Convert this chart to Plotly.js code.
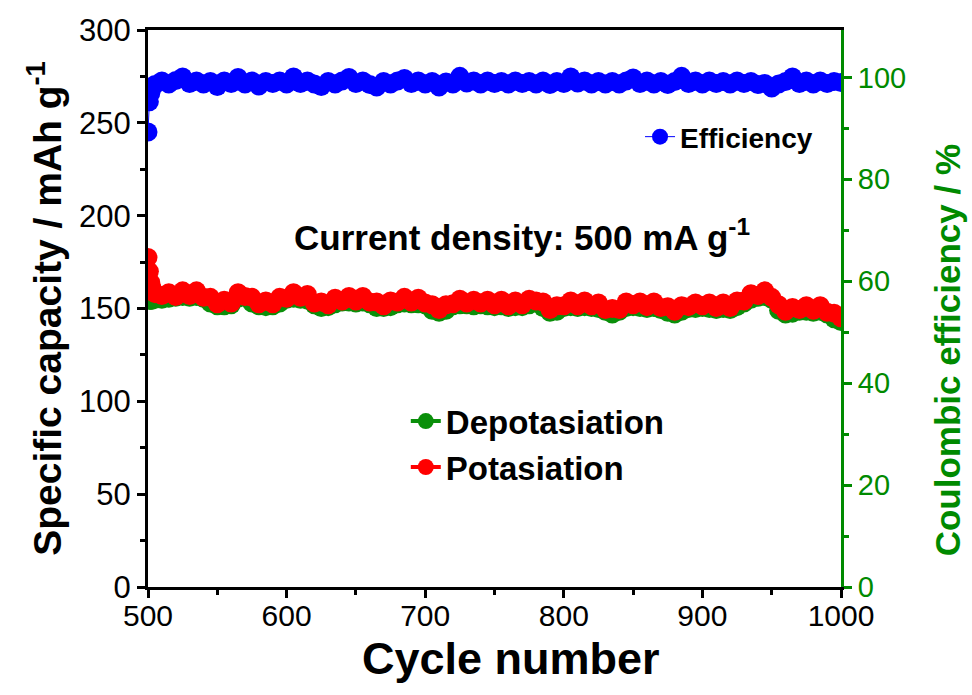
<!DOCTYPE html>
<html>
<head>
<meta charset="utf-8">
<script src="https://cdn.plot.ly/plotly-3.0.1.min.js"></script>
<style>html,body{margin:0;padding:0;background:#fff}#chart{width:972px;height:695px}</style>
</head>
<body>
<div id="chart"></div>
<script>
// Cycle numbers
const cycles = [500,501,502,503,505,510,515,520,525,530,
 535,540,545,550,555,560,565,570,575,580,
 585,590,595,600,605,610,615,620,625,630,
 635,640,645,650,655,660,665,670,675,680,
 685,690,695,700,705,710,715,720,725,730,
 735,740,745,750,755,760,765,770,775,780,
 785,790,795,800,805,810,815,820,825,830,
 835,840,845,850,855,860,865,870,875,880,
 885,890,895,900,905,910,915,920,925,930,
 935,940,945,950,955,960,965,970,975,980,
 985,990,995,1000];

// Potasiation capacity (mAh/g)
const potasiation = [177.5,170,164,161,158,157,158.5,156.5,159.5,157,
 159.5,156,156,152.5,154.5,153,158.5,156.5,156,152.5,
 154,152.5,156,155.5,158.5,156,157.5,153,153.5,152,
 155.5,154,156.5,154,156.5,153.5,153.5,151.5,154,153.5,
 156,153.5,155.5,153,152,149.5,152,152.5,155,153,
 154.5,153,154.5,152,154.5,151.5,154,152,155,154,
 153.5,149.5,151.5,151.5,154,151.5,154,151.5,153,149.5,
 150,149.5,153.5,152,153.5,151,153.5,150.5,151,148.5,
 151.5,151,153,151.5,153,150.5,153,150.5,154,154,
 158,157,159.5,156,152,148.5,150.5,149.5,151.5,149,
 151.5,148,147.5,145];

// Depotasiation capacity (mAh/g)
const depotasiation = [155,154.5,154.5,154.5,155,155,155.5,156,156.5,156,
 156.5,155.5,153,151.5,151.5,152,155.5,156,153,151.5,
 151,151.5,153,155,155.5,155,154.5,152,150.5,151,
 152.5,153.5,153.5,153,153.5,152.5,150.5,150.5,151,152.5,
 153,152.5,152.5,152,149,148,149,151.5,152,152,
 151.5,152,151.5,151,151.5,150.5,151,151,152,153,
 150.5,148,148.5,150.5,151,150.5,151,150.5,150,148.5,
 147,148.5,150.5,151,150.5,150,150.5,149.5,148,147,
 148.5,150,150,150.5,150,149.5,150,149.5,151,153,
 155,156,156.5,155,149,147,147.5,148.5,148.5,148,
 148.5,147,144.5,143];

// Coulombic efficiency (%)
const efficiency = [89.3,95.2,96.9,97.9,98.6,99.3,98.7,99.4,100.1,98.8,
 99.3,98.7,99.2,98.2,99.3,98.8,100.0,98.7,99.3,98.3,
 99.2,98.8,99.3,98.7,100.1,98.8,99.3,98.7,98.2,99.2,
 98.7,99.3,100.0,98.8,99.3,98.6,98.1,99.2,98.7,99.3,
 99.8,98.8,99.3,98.7,99.2,98.1,99.1,98.7,100.2,98.9,
 99.3,98.7,99.3,98.8,99.2,98.7,99.3,98.8,99.2,98.7,
 99.3,98.6,99.2,98.8,100.1,98.9,99.3,98.7,99.2,98.7,
 99.2,98.7,99.3,99.9,98.8,99.3,98.7,99.2,98.6,99.2,
 100.2,98.8,99.3,98.7,99.3,98.8,99.2,98.7,99.3,98.8,
 99.2,98.6,98.8,97.9,98.7,99.2,100.1,98.8,99.3,98.7,
 99.3,98.8,99.2,99.0];

const xTicks = [500,600,700,800,900,1000];
const yTicks = [0,50,100,150,200,250,300];
const y2Ticks = [0,20,40,60,80,100];

const FONT = 'Liberation Sans, Arial, sans-serif';
const GREEN = '#008a00';

const traces = [
  {x: cycles, y: depotasiation, name: 'Depotasiation', type: 'scatter', mode: 'lines+markers',
   line: {color: '#0a8f0a', width: 4}, marker: {color: '#0a8f0a', size: 19, line: {width: 0}},
   legend: 'legend2', yaxis: 'y'},
  {x: cycles, y: potasiation, name: 'Potasiation', type: 'scatter', mode: 'lines+markers',
   line: {color: '#ff0000', width: 4}, marker: {color: '#ff0000', size: 19, line: {width: 0}},
   legend: 'legend2', yaxis: 'y'},
  {x: cycles, y: efficiency, name: 'Efficiency', type: 'scatter', mode: 'lines+markers',
   line: {color: '#0000ff', width: 1}, marker: {color: '#0000ff', size: 19, line: {width: 0}},
   legend: 'legend', yaxis: 'y2'}
];

const layout = {
  width: 972, height: 695,
  margin: {l: 148, r: 131, t: 30, b: 108},
  paper_bgcolor: '#fff', plot_bgcolor: '#fff',
  font: {family: FONT, color: '#000'},
  showlegend: true,
  xaxis: {
    range: [500, 1000], tickvals: xTicks, ticktext: xTicks.map(String),
    showgrid: false, zeroline: false,
    showline: true, linecolor: '#000', linewidth: 3, mirror: true,
    ticks: 'outside', ticklen: 8, tickwidth: 3, tickcolor: '#000',
    minor: {dtick: 50, tick0: 500, ticks: 'outside', ticklen: 5, tickwidth: 3, tickcolor: '#000', showgrid: false},
    tickfont: {family: FONT, size: 30, color: '#000'},
    ticklabelstandoff: -8,
    automargin: false
  },
  yaxis: {
    range: [0, 300], tickvals: yTicks, ticktext: yTicks.map(String),
    showgrid: false, zeroline: false,
    showline: true, linecolor: '#000', linewidth: 3,
    ticks: 'outside', ticklen: 8, tickwidth: 3, tickcolor: '#000',
    minor: {dtick: 25, tick0: 0, ticks: 'outside', ticklen: 5, tickwidth: 3, tickcolor: '#000', showgrid: false},
    tickfont: {family: FONT, size: 31, color: '#000'},
    title: {text: 'Specific capacity / mAh g<sup>-1</sup>', font: {family: FONT, size: 39, color: '#000', weight: 'bold'}, standoff: 6},
    automargin: false
  },
  yaxis2: {
    overlaying: 'y', side: 'right',
    range: [0, 109.3], tickvals: y2Ticks, ticktext: y2Ticks.map(String),
    showgrid: false, zeroline: false,
    showline: true, linecolor: GREEN, linewidth: 3,
    ticks: 'outside', ticklen: 8, tickwidth: 3, tickcolor: GREEN,
    minor: {dtick: 10, tick0: 0, ticks: 'outside', ticklen: 5, tickwidth: 3, tickcolor: GREEN, showgrid: false},
    tickfont: {family: FONT, size: 29, color: GREEN},
    automargin: false
  },
  legend: {
    x: 0.71, y: 0.808, xanchor: 'left', yanchor: 'middle',
    bgcolor: 'rgba(0,0,0,0)', borderwidth: 0,
    font: {family: FONT, size: 28, color: '#000', weight: 'bold'}
  },
  legend2: {
    x: 0.372, y: 0.348, xanchor: 'left', yanchor: 'top',
    bgcolor: 'rgba(0,0,0,0)', borderwidth: 0, tracegroupgap: 0,
    font: {family: FONT, size: 33, color: '#000', weight: 'bold'}
  },
  annotations: [
    {xref: 'paper', yref: 'paper', x: 0.54, y: 0.632, xanchor: 'center', yanchor: 'middle',
     text: 'Current density: 500 mA g<sup>-1</sup>', showarrow: false,
     font: {family: FONT, size: 35, color: '#000', weight: 'bold'}},
    // x-axis title
    {xref: 'paper', yref: 'paper', x: 0.524, y: -0.129, xanchor: 'center', yanchor: 'middle',
     text: 'Cycle number', showarrow: false,
     font: {family: FONT, size: 45, color: '#000', weight: 'bold'}},
    // right y-axis title
    {xref: 'paper', yref: 'paper', x: 1.153, y: 0.425, xanchor: 'center', yanchor: 'middle',
     text: 'Coulombic efficiency / %', textangle: -90, showarrow: false,
     font: {family: FONT, size: 35, color: GREEN, weight: 'bold'}}
  ]
};

Plotly.newPlot('chart', traces, layout, {displayModeBar: false, staticPlot: true});
</script>
</body>
</html>
